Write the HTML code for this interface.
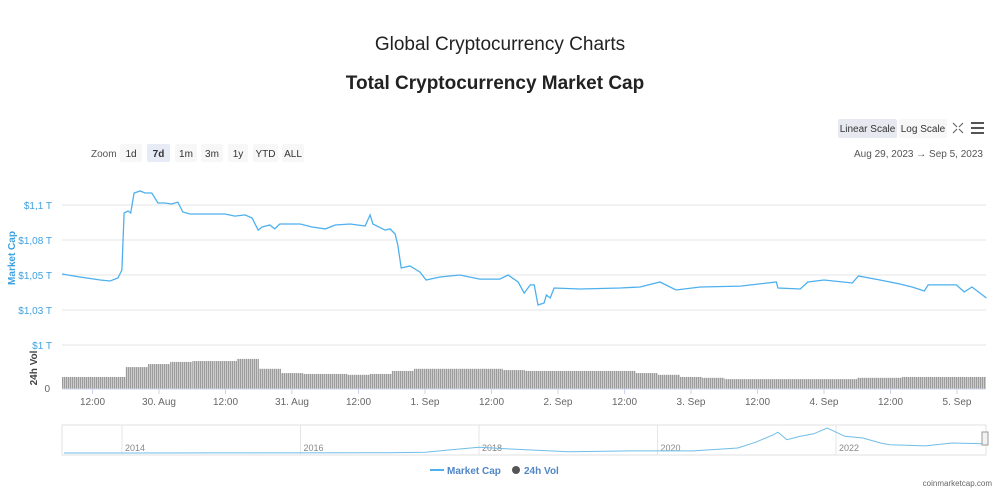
<!DOCTYPE html>
<html><head><meta charset="utf-8"><style>
body{margin:0;background:#fff;width:1000px;height:489px;overflow:hidden;font-family:"Liberation Sans",sans-serif}
svg{display:block}
</style></head><body>
<svg id="c" width="1000" height="489" font-family="Liberation Sans, sans-serif">
<text x="500" y="50" text-anchor="middle" font-size="19" fill="#222" font-weight="500">Global Cryptocurrency Charts</text>
<text x="495" y="89" text-anchor="middle" font-size="19" font-weight="bold" fill="#222">Total Cryptocurrency Market Cap</text>
<g><rect x="838" y="119" width="59" height="19" fill="#e6e9ef" rx="2"/><text x="867.5" y="132" text-anchor="middle" font-size="10" fill="#333">Linear Scale</text></g>
<g><rect x="899" y="119" width="48" height="19" fill="#f7f7f7" rx="2"/><text x="923" y="132" text-anchor="middle" font-size="10" fill="#333">Log Scale</text></g>
<g stroke="#666" stroke-width="1.2" fill="none"><path d="M953 123l4 4M963 123l-4 4M953 133l4-4M963 133l-4-4"/></g>
<g stroke="#555" stroke-width="2"><path d="M971 123h13M971 128h13M971 133h13"/></g>
<text x="91" y="157" font-size="10" fill="#555">Zoom</text>
<g id="zoomBtns"></g>
<text x="983" y="157" text-anchor="end" font-size="10" fill="#555">Aug 29, 2023  →  Sep 5, 2023</text>
<g id="grid"></g>
<text transform="translate(15,258) rotate(-90)" text-anchor="middle" font-size="10" font-weight="bold" fill="#3ea1e0">Market Cap</text>
<text transform="translate(37,368) rotate(-90)" text-anchor="middle" font-size="10" font-weight="bold" fill="#444">24h Vol</text>
<text x="50" y="392" text-anchor="end" font-size="10" fill="#666">0</text>
<defs><pattern id="stripe" width="2" height="4" patternUnits="userSpaceOnUse"><rect width="2" height="4" fill="#cccccc"/><rect width="0.5" height="4" fill="#6a6a6a"/></pattern></defs>
<g id="vol"></g>
<line x1="62" y1="389" x2="986" y2="389" stroke="#ccd6eb"/>
<g id="xlab"></g>
<path id="line" fill="none" stroke="#4eb0ee" stroke-width="1.3"/>
<g>
<rect x="62" y="425" width="924" height="30" fill="none" stroke="#e0e0e0"/>
<g id="nav"></g>
<path id="navline" fill="none" stroke="#6fbde9" stroke-width="1"/>
<rect x="982" y="432" width="6" height="13" fill="#f2f2f2" stroke="#999"/>
</g>
<g><line x1="430" y1="470" x2="444" y2="470" stroke="#4eb0ee" stroke-width="2"/><text x="447" y="474" font-size="10" font-weight="bold" fill="#4f86c6">Market Cap</text></g>
<g><circle cx="516" cy="470" r="4" fill="#555"/><text x="524" y="474" font-size="10" font-weight="bold" fill="#4f86c6">24h Vol</text></g>
<text x="992" y="486" text-anchor="end" font-size="8" fill="#666">coinmarketcap.com</text>
</svg>
<script>
const hours=[-17.5,-14.3,-10.6,-8.8,-7.4,-6.7,-6.3,-5.6,-5.1,-4.5,-3.4,-2.5,-1.3,-0.2,1.1,2.3,3.4,4.3,5.6,7.4,10.1,11.9,13.7,15.5,16.8,17.9,18.6,20,20.9,21.8,25.5,27.6,30,31.8,34.5,37.2,38.1,38.6,40.8,41.7,42.6,43.1,43.7,45.3,47.1,48.2,50.7,54.3,57.9,61.5,63,64.8,65.9,67,67.7,68.4,69.5,69.9,70.6,71.3,76,83.2,86.8,90.4,93.3,97.7,104.9,111.4,111.7,115.7,117.1,120,125.1,126.2,130.1,133.7,135.9,138.1,138.8,143.9,145.3,146.7,149.3];
const capValues=[1.0507,1.0486,1.0464,1.0457,1.0479,1.0536,1.0943,1.0957,1.0943,1.1086,1.11,1.1086,1.1086,1.1014,1.1014,1.1007,1.1021,1.095,1.0936,1.0936,1.0936,1.0936,1.0921,1.0929,1.0907,1.0821,1.0843,1.0857,1.0829,1.0864,1.0864,1.0843,1.0829,1.0857,1.0864,1.085,1.0929,1.0864,1.0821,1.0829,1.0793,1.0714,1.055,1.0564,1.0521,1.0464,1.0486,1.05,1.0471,1.0471,1.05,1.045,1.0371,1.0429,1.0429,1.0286,1.03,1.0357,1.0336,1.0407,1.04,1.0407,1.0414,1.045,1.0393,1.0414,1.0421,1.045,1.0407,1.04,1.045,1.0464,1.0443,1.0493,1.0464,1.0436,1.0414,1.0386,1.0429,1.0429,1.0379,1.0414,1.0336];
const yTickLabels=["$1 T","$1,03 T","$1,05 T","$1,08 T","$1,1 T"];
const yTickValues=[1.0,1.025,1.05,1.075,1.1];
const xTickHours=[-12,0,12,24,36,48,60,72,84,96,108,120,132,144];
const xTickLabels=["12:00","30. Aug","12:00","31. Aug","12:00","1. Sep","12:00","2. Sep","12:00","3. Sep","12:00","4. Sep","12:00","5. Sep"];
const volHours=[-16,-12,-8,-4,0,4,8,12,16,20,24,28,32,36,40,44,48,52,56,60,64,68,72,76,80,84,88,92,96,100,104,108,112,116,120,124,128,132,136,140,144,148];
const volValues=[28,28,28,51,58,63,65,65,70,47,37,35,35,33,35,42,47,47,47,47,44,42,42,42,42,42,37,33,28,26,23,23,23,23,23,23,26,26,28,28,28,28];
const navYears=[2013.35,2015,2017.0,2017.4,2017.6,2018.0,2018.3,2019.0,2019.7,2020.4,2020.9,2021.1,2021.3,2021.35,2021.45,2021.6,2021.75,2021.9,2022.1,2022.3,2022.5,2022.6,2023.0,2023.3,2023.68];
const navValues=[0.0,0.01,0.02,0.1,0.3,0.7,0.5,0.15,0.25,0.25,0.6,1.3,2.2,2.5,1.6,2.0,2.3,3.0,2.0,1.8,1.2,1.0,0.85,1.2,1.1];
const navYearLabels=["2014","2016","2018","2020","2022"];
const navYearTicks=[2014,2016,2018,2020,2022];

const NS="http://www.w3.org/2000/svg";
const xS=h=>159+h*133/24;
const yS=v=>345-(v-1.0)/0.1*140;
const vS=v=>389-v*0.43;
const nX=y=>122+(y-2014)*89.25;
const nY=v=>453-v*8.33;
function mk(t,a,p){const e=document.createElementNS(NS,t);for(const k in a)e.setAttribute(k,a[k]);p.appendChild(e);return e;}

const zb=document.getElementById('zoomBtns');
const zl=["1d","7d","1m","3m","1y","YTD","ALL"],zx=[120,147,175,201,228,253,282],zw=[22,23,22,22,20,25,22];
zl.forEach((l,i)=>{const g=mk('g',{},zb);


mk('rect',{x:zx[i],y:144,width:zw[i],height:18,fill:i==1?'#e6ebf5':'#f7f7f7',rx:2},g);
const t=mk('text',{x:zx[i]+zw[i]/2,y:157,'text-anchor':'middle','font-size':10,fill:'#333','font-weight':i==1?'bold':'normal'},g);t.textContent=l;});

const gr=document.getElementById('grid');
yTickValues.forEach((v,i)=>{
const l=mk('line',{x1:62,x2:986,y1:yS(v),y2:yS(v),stroke:'#e6e6e6'},gr);


const t=mk('text',{x:52,y:yS(v)+4,'text-anchor':'end','font-size':10,fill:'#3ea1e0'},gr);


t.textContent=yTickLabels[i];});

const vg=document.getElementById('vol');
volHours.forEach((h,i)=>{
const x0=Math.max(62,xS(h-2)),x1=Math.min(986,xS(h+2));
const r=mk('rect',{x:x0,y:vS(volValues[i]),width:x1-x0,height:389-vS(volValues[i]),fill:'url(#stripe)'},vg);

});

const xl=document.getElementById('xlab');
xTickHours.forEach((h,i)=>{
mk('line',{x1:xS(h),x2:xS(h),y1:389,y2:394,stroke:'#ccd6eb'},xl);
const t=mk('text',{x:xS(h),y:405,'text-anchor':'middle','font-size':10,fill:'#666'},xl);


t.textContent=xTickLabels[i];});

document.getElementById('line').setAttribute('d',hours.map((h,i)=>(i?'L':'M')+xS(h).toFixed(1)+' '+yS(capValues[i]).toFixed(1)).join(''));

const nv=document.getElementById('nav');
navYearTicks.forEach((y,i)=>{
mk('line',{x1:nX(y),x2:nX(y),y1:425,y2:455,stroke:'#e6e6e6'},nv);
const t=mk('text',{x:nX(y)+3,y:451,'font-size':9,fill:'#888'},nv);


t.textContent=navYearLabels[i];});
document.getElementById('navline').setAttribute('d',navYears.map((y,i)=>(i?'L':'M')+nX(y).toFixed(1)+' '+nY(navValues[i]).toFixed(1)).join(''));
</script>
</body></html>
